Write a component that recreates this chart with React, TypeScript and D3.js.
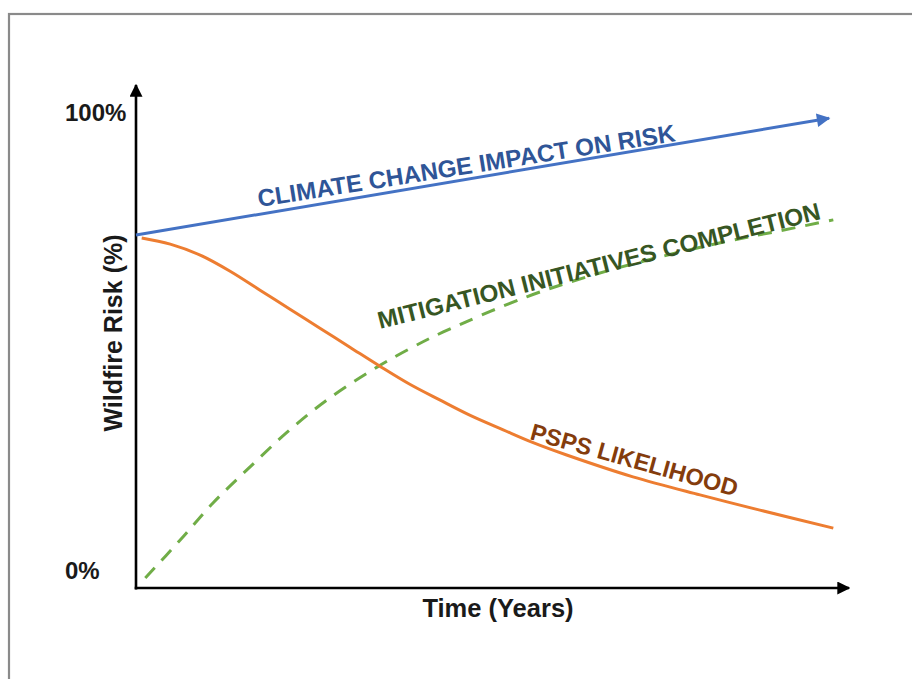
import React from "react";
import * as d3 from "d3";

// Data (time in % of horizon, risk in %)
const climateX = [0, 97.2];
const climateY = [74.3, 98.9];

const psspX = [0.8, 4.8, 9.0, 13.2, 17.4, 21.6, 25.8, 30.0, 34.2, 38.4, 42.6, 46.8, 51.5, 55.7, 60.4, 69.7, 79.1, 87.5, 97.8];
const psspY = [73.7, 72.4, 70.1, 66.7, 62.7, 58.7, 54.7, 50.7, 46.7, 42.9, 39.6, 36.4, 33.3, 30.6, 28.0, 23.4, 19.6, 16.4, 12.6];

const mitX = [1.3, 6.2, 10.8, 16.0, 21.2, 26.8, 33.8, 38.8, 43.1, 54.8, 64.1, 73.5, 82.3, 89.3, 97.8];
const mitY = [2.1, 10.1, 17.9, 25.5, 32.8, 39.6, 46.5, 50.7, 53.9, 61.3, 65.9, 69.7, 72.8, 74.9, 77.5];

const yTickLabels = ["0%", "100%"];
const yTickValues = [0, 100];

const W = 912;
const H = 679;
const FONT = "'Liberation Sans', Arial, sans-serif";

export default function App() {
  const x = d3.scaleLinear().domain([0, 100]).range([136, 849]);
  const y = d3.scaleLinear().domain([0, 100]).range([588, 113]);

  const line = d3
    .line<[number, number]>()
    .x((d) => x(d[0]))
    .y((d) => y(d[1]))
    .curve(d3.curveCatmullRom.alpha(0.5));

  const psps: [number, number][] = psspX.map((v, i) => [v, psspY[i]]);
  const mit: [number, number][] = mitX.map((v, i) => [v, mitY[i]]);
  const clim: [number, number][] = climateX.map((v, i) => [v, climateY[i]]);

  const x0 = x(0);
  const y0 = y(0);

  return (
    <svg
      width={W}
      height={H}
      style={{ position: "absolute", left: 0, top: 0, background: "#fff" }}
      fontFamily={FONT}
    >
      <defs>
        <marker id="blackArrow" viewBox="0 0 10 10" refX="9" refY="5" markerWidth="5" markerHeight="5" orient="auto" markerUnits="strokeWidth">
          <path d="M0,0 L10,5 L0,10 z" fill="#000" />
        </marker>
        <marker id="blueArrow" viewBox="0 0 10 10" refX="9" refY="5" markerWidth="5" markerHeight="4.5" orient="auto" markerUnits="strokeWidth">
          <path d="M0,0 L10,5 L0,10 z" fill="#4472C4" />
        </marker>
      </defs>

      {/* frame */}
      <rect x={9} y={14} width={1000} height={1000} fill="#fff" stroke="#8a8a8a" strokeWidth={2.2} />

      {/* axes */}
      <line x1={x0} y1={y0 + 1.5} x2={x0} y2={85} stroke="#000" strokeWidth={2.6} markerEnd="url(#blackArrow)" />
      <line x1={x0 - 1.3} y1={y0} x2={x(100)} y2={y0} stroke="#000" strokeWidth={2.6} markerEnd="url(#blackArrow)" />

      {/* y tick labels */}
      {yTickValues.map((v, i) => (
        <text
          key={v}
          x={65}
          y={v === 100 ? y(v) + 8 : y(v) - 9}
          textAnchor="start"
          fontSize={24}
          fontWeight="bold"
          fill="#1a1a1a"
        >
          {yTickLabels[i]}
        </text>
      ))}

      {/* axis titles */}
      <text x={498} y={617} textAnchor="middle" fontSize={25.5} fontWeight="bold" fill="#1a1a1a">
        Time (Years)
      </text>
      <text
        transform={`translate(122,333) rotate(-90)`}
        textAnchor="middle"
        fontSize={25}
        fontWeight="bold"
        fill="#1a1a1a"
      >
        Wildfire Risk (%)
      </text>

      {/* series */}
      <path d={line(mit) || ""} fill="none" stroke="#70AD47" strokeWidth={3} strokeDasharray="14 10" />
      <path d={line(psps) || ""} fill="none" stroke="#ED7D31" strokeWidth={3} />
      <path d={line(clim) || ""} fill="none" stroke="#4472C4" strokeWidth={3} markerEnd="url(#blueArrow)" />

      {/* series labels */}
      <text transform="translate(259,207) rotate(-9)" fontSize={24.2} fontWeight="bold" fill="#2F5597">
        CLIMATE CHANGE IMPACT ON RISK
      </text>
      <text transform="translate(380,329) rotate(-14)" fontSize={24.3} fontWeight="bold" fill="#375623">
        MITIGATION INITIATIVES COMPLETION
      </text>
      <text transform="translate(529,439) rotate(15.6)" fontSize={23.5} fontWeight="bold" fill="#843C0C">
        PSPS LIKELIHOOD
      </text>
    </svg>
  );
}
